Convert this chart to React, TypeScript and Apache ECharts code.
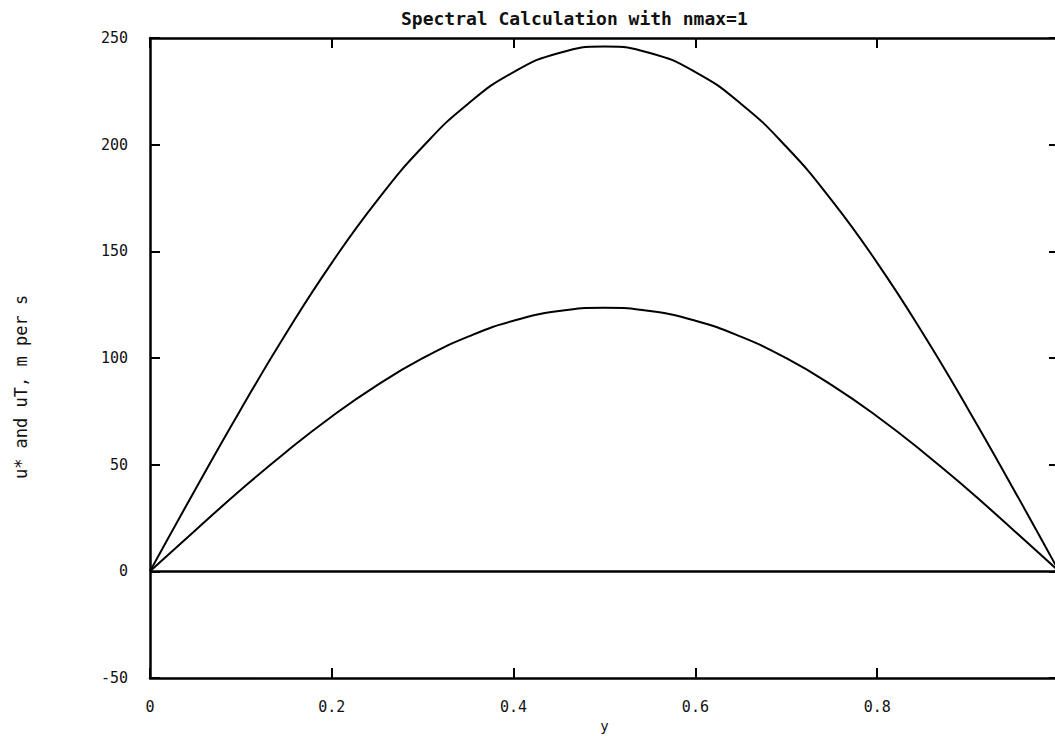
import React, { useEffect, useRef } from "react";
import * as echarts from "echarts";

const titleText = "Spectral Calculation with nmax=1";
const yName = "u* and uT, m per s";
const xName = "y";

const xs = [0, 0.05, 0.1, 0.15, 0.2, 0.25, 0.3, 0.35, 0.4, 0.45, 0.5, 0.55, 0.6, 0.65, 0.7, 0.75, 0.8, 0.85, 0.9, 0.95, 1.0];
const upper = [0, 38.5, 76.0, 111.7, 144.6, 173.9, 199.0, 219.2, 234.0, 243.0, 246.0, 243.0, 234.0, 219.2, 199.0, 173.9, 144.6, 111.7, 76.0, 38.5, 0];
const lower = [0, 19.3, 38.2, 56.1, 72.6, 87.3, 99.9, 110.0, 117.5, 122.0, 123.5, 122.0, 117.5, 110.0, 99.9, 87.3, 72.6, 56.1, 38.2, 19.3, 0];

const xTickLabels = ["0", "0.2", "0.4", "0.6", "0.8"];

const FONT = "DejaVu Sans Mono";

export default function App() {
  const ref = useRef<HTMLDivElement>(null);
  useEffect(() => {
    if (!ref.current) return;
    const chart = echarts.init(ref.current, null, { renderer: "svg" });
    const axisLine = { show: true, onZero: false, lineStyle: { color: "#000", width: 2.5 } };
    const tick = { show: true, inside: true, length: 10, lineStyle: { color: "#000", width: 2 } };
    const labelStyle = { color: "#111", fontFamily: FONT, fontSize: 15 };
    chart.setOption({
      animation: false,
      backgroundColor: "#fff",
      title: {
        text: titleText,
        left: 396,
        top: 4,
        textStyle: { fontFamily: FONT, fontSize: 18, fontWeight: "bold", color: "#111" },
      },
      grid: {
        left: 150,
        top: 38,
        width: 909,
        height: 640,
        containLabel: false,
        outerBoundsMode: "none",
      },
      xAxis: [
        {
          type: "value",
          min: 0,
          max: 1,
          interval: 0.2,
          position: "bottom",
          name: xName,
          nameLocation: "middle",
          nameGap: 39,
          nameTextStyle: { ...labelStyle, fontSize: 14 },
          axisLine,
          axisTick: tick,
          splitLine: { show: false },
          axisLabel: {
            ...labelStyle,
            margin: 21,
            formatter: (v: number) => {
              const i = Math.round(v / 0.2);
              return i < xTickLabels.length ? xTickLabels[i] : "";
            },
          },
        },
        {
          type: "value",
          min: 0,
          max: 1,
          interval: 0.2,
          position: "top",
          axisLine,
          axisTick: tick,
          splitLine: { show: false },
          axisLabel: { show: false },
        },
      ],
      yAxis: [
        {
          type: "value",
          min: -50,
          max: 250,
          interval: 50,
          position: "left",
          axisLine,
          axisTick: tick,
          splitLine: { show: false },
          axisLabel: { ...labelStyle, margin: 22 },
        },
        {
          type: "value",
          min: -50,
          max: 250,
          interval: 50,
          position: "right",
          axisLine,
          axisTick: tick,
          splitLine: { show: false },
          axisLabel: { show: false },
        },
      ],
      graphic: [
        {
          type: "text",
          x: 21,
          y: 387,
          rotation: Math.PI / 2,
          style: {
            text: yName,
            fontFamily: FONT,
            fontSize: 17,
            fill: "#111",
            textAlign: "center",
            textVerticalAlign: "middle",
          },
        },
      ],
      series: [
        {
          type: "line",
          data: xs.map((x, i) => [x, upper[i]]),
          smooth: true,
          showSymbol: false,
          lineStyle: { color: "#000", width: 2 },
          markLine: {
            silent: true,
            symbol: "none",
            label: { show: false },
            lineStyle: { color: "#000", width: 2.5, type: "solid" },
            data: [{ yAxis: 0 }],
          },
        },
        {
          type: "line",
          data: xs.map((x, i) => [x, lower[i]]),
          smooth: true,
          showSymbol: false,
          lineStyle: { color: "#000", width: 2 },
        },
      ],
    });
    return () => chart.dispose();
  }, []);
  return (
    <div
      ref={ref}
      style={{ position: "absolute", left: 0, top: 0, width: 1055, height: 736 }}
    />
  );
}
